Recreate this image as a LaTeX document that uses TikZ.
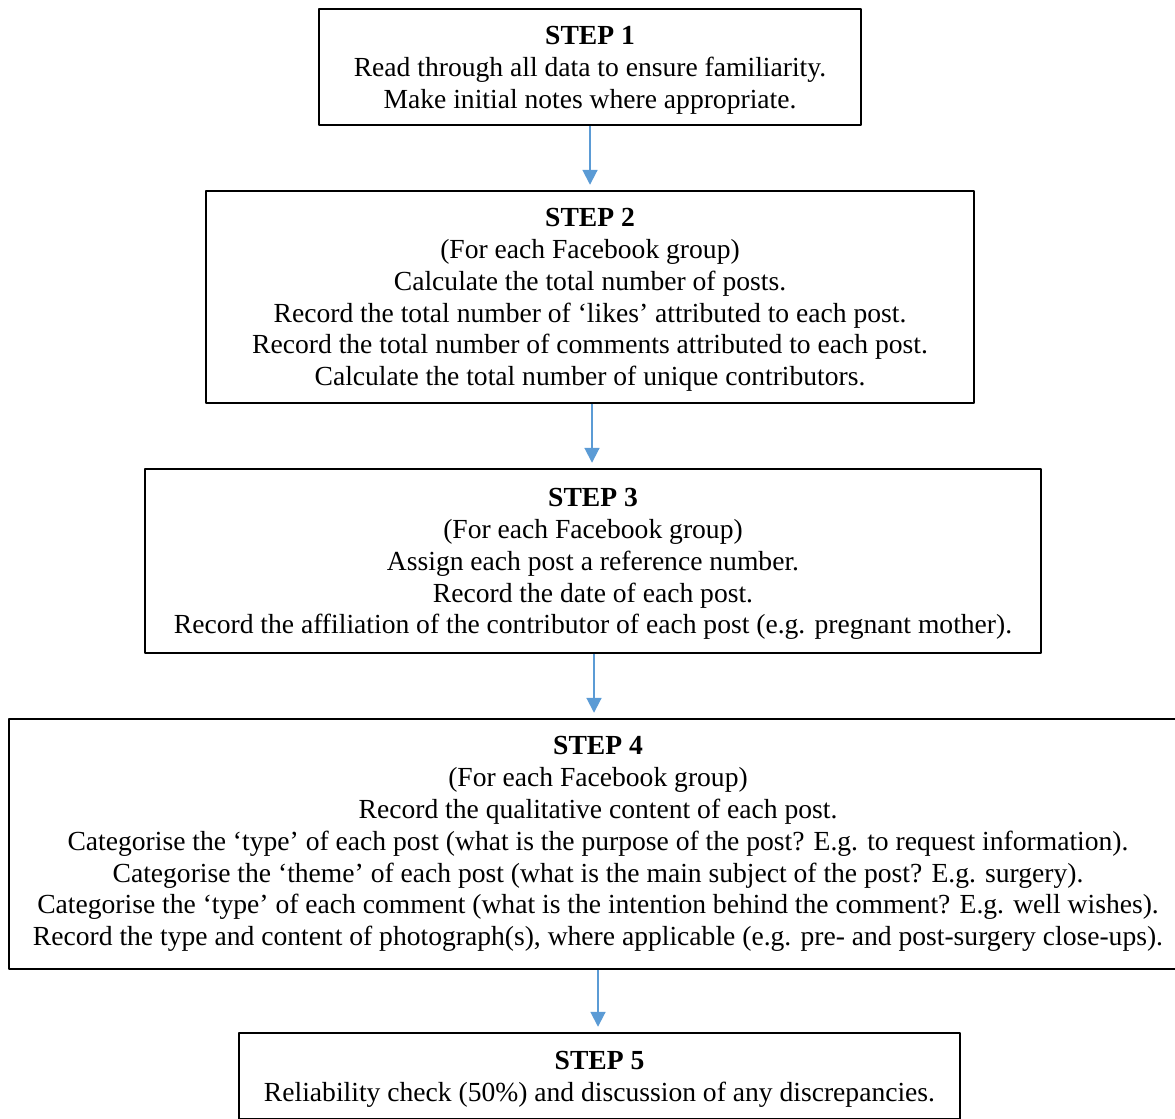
\documentclass[tikz,border=0pt]{standalone}
\usepackage{fontspec}
\setmainfont{Liberation Serif}
\usepackage{xcolor}
\usetikzlibrary{arrows.meta,calc}
\definecolor{arrowblue}{HTML}{5B9BD5}
\newcommand{\steptitle}[1]{\rule{0pt}{13.8pt}\textbf{STEP #1}}

\begin{document}
\begin{tikzpicture}[x=0.02cm,y=-0.02cm,line join=round,
    stepbox/.style={draw,line width=1.1pt,align=center,inner sep=0pt,
      font=\fontsize{15.7}{18.14}\selectfont},
    flow/.style={-{Triangle[length=8.5pt,width=8.5pt]},arrowblue,line width=1.1pt,shorten >=3pt}]
  \useasboundingbox (0,0) rectangle (1175,1118);
  \node[stepbox,minimum width=10.84cm,minimum height=2.32cm] (step1) at (590,67)
    {\steptitle{1}\\Read through all data to ensure familiarity.\\Make initial notes where appropriate.};
  \node[stepbox,minimum width=15.36cm,minimum height=4.24cm] (step2) at (590,297)
    {\steptitle{2}\\(For each Facebook group)\\Calculate the total number of posts.\\
     Record the total number of ‘likes’ attributed to each post.\\
     Record the total number of comments attributed to each post.\\
     Calculate the total number of unique contributors.};
  \node[stepbox,minimum width=17.92cm,minimum height=3.68cm] (step3) at (593,561)
    {\steptitle{3}\\(For each Facebook group)\\Assign each post a reference number.\\
     Record the date of each post.\\
     Record the affiliation of the contributor of each post (e.g. pregnant mother).};
  \node[stepbox,minimum width=23.56cm,minimum height=5cm] (step4) at (598,844)
    {\textbf{STEP 4}\\(For each Facebook group)\\Record the qualitative content of each post.\\
     Categorise the ‘type’ of each post (what is the purpose of the post? E.g. to request information).\\
     Categorise the ‘theme’ of each post (what is the main subject of the post? E.g. surgery).\\
     Categorise the ‘type’ of each comment (what is the intention behind the comment? E.g. well wishes).\\
     Record the type and content of photograph(s), where applicable (e.g. pre- and post-surgery close-ups).};
  \node[stepbox,minimum width=14.42cm,minimum height=1.72cm] (step5) at (599.5,1076)
    {\steptitle{5}\\Reliability check (50\%) and discussion of any discrepancies.};
  \draw[flow] (step1.south) -- (step1.south |- step2.north);
  \draw[flow] ([xshift=0.04cm]step2.south) -- ([xshift=0.04cm]step2.south |- step3.north);
  \draw[flow] ([xshift=0.02cm]step3.south) -- ([xshift=0.02cm]step3.south |- step4.north);
  \draw[flow] ([xshift=-0.03cm]step4.south -| step5.north) -- ([xshift=-0.03cm]step5.north);
\end{tikzpicture}
\end{document}
